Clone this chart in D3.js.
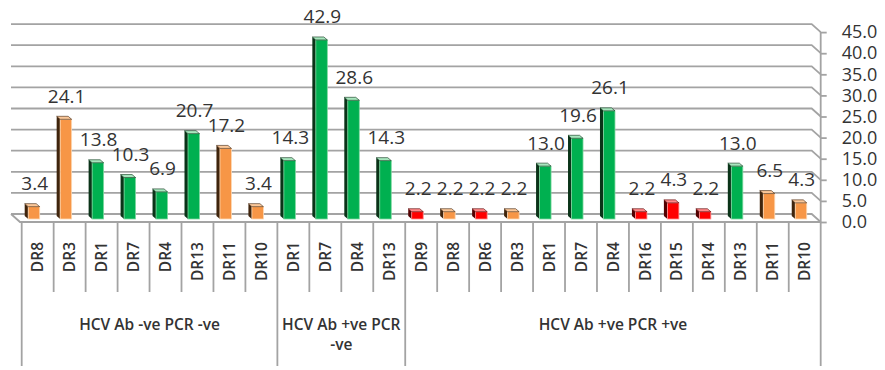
<!DOCTYPE html>
<html>
<head>
<meta charset="utf-8">
<script src="https://cdn.jsdelivr.net/npm/d3@7"></script>
<style>
  html, body { margin: 0; padding: 0; background: #fff; }
  svg { display: block; }
  text { font-family: "Open Sans", sans-serif; fill: #333; }
</style>
</head>
<body>
<svg id="chart" width="885" height="370"></svg>
<script>
// ---- data ----
const groups = ["HCV Ab -ve PCR -ve", "HCV Ab +ve PCR -ve", "HCV Ab +ve PCR +ve"];
const groupLines = [["HCV Ab -ve PCR -ve"], ["HCV Ab +ve PCR", "-ve"], ["HCV Ab +ve PCR +ve"]];
const alleles = ["DR8","DR3","DR1","DR7","DR4","DR13","DR11","DR10",
                 "DR1","DR7","DR4","DR13",
                 "DR9","DR8","DR6","DR3","DR1","DR7","DR4","DR16","DR15","DR14","DR13","DR11","DR10"];
const groupIndex = [0,0,0,0,0,0,0,0, 1,1,1,1, 2,2,2,2,2,2,2,2,2,2,2,2,2];
const values = [3.4,24.1,13.8,10.3,6.9,20.7,17.2,3.4,
                14.3,42.9,28.6,14.3,
                2.2,2.2,2.2,2.2,13.0,19.6,26.1,2.2,4.3,2.2,13.0,6.5,4.3];
const colorKey = ["o","o","g","g","g","g","o","o",
                  "g","g","g","g",
                  "r","o","r","o","g","g","g","r","r","r","g","o","o"];
const yTicks = [0,5,10,15,20,25,30,35,40,45];

const palette = {
  o: {face: "#F79646", top: "#FBC89A", side: "#3f240c", edge: "#FDD9B5"},
  g: {face: "#00B050", top: "#A8E6BE", side: "#0a3318", edge: "#7FD8A0"},
  r: {face: "#FF0000", top: "#FF8A8A", side: "#520000", edge: "#FF9090"}
};

// ---- layout ----
const svg = d3.select("#chart");
const n = alleles.length;
const x = d3.scaleBand().domain(d3.range(n)).range([21.7, 820.7]).paddingInner(0).paddingOuter(0);
const y = d3.scaleLinear().domain([0, 45]).range([218, 218 - 45 * 4.22]);
const depth = 4;
const backX0 = 11, frontX1 = x.range()[1];
const backX1 = frontX1 - 9, frontX0 = backX0 + 9;
const gridColor = "#a3a3a3";

const grid = svg.append("g");
yTicks.forEach(v => {
  const yb = y(v) - depth, yf = y(v) + depth;
  grid.append("path")
    .attr("d", `M${backX0},${yb}L${backX1},${yb}L${frontX1},${yf}`)
    .attr("fill", "none").attr("stroke", gridColor).attr("stroke-width", 1.8);
});
grid.append("path")
  .attr("d", `M${backX0},${y(0) - depth}L${frontX0},${y(0) + depth}L${frontX1},${y(0) + depth}`)
  .attr("fill", "none").attr("stroke", gridColor).attr("stroke-width", 1.8);

// right axis
const yFront = y.copy().range(y.range().map(r => r + depth));
const axis = svg.append("g")
  .attr("transform", `translate(${frontX1},0)`)
  .call(d3.axisRight(yFront).tickValues(yTicks).tickFormat(d3.format(".1f")).tickSize(6).tickPadding(15));
axis.select(".domain").remove();
axis.selectAll(".tick line").attr("stroke", gridColor).attr("stroke-width", 1.8);
axis.selectAll(".tick text")
  .attr("font-family", "Open Sans, sans-serif").attr("font-size", 18).attr("fill", "#333");
svg.append("line")
  .attr("x1", frontX1).attr("x2", frontX1).attr("y1", yFront(45)).attr("y2", 366)
  .attr("stroke", gridColor).attr("stroke-width", 1.8);

// bars (3D look)
const sideW = 3.5, faceW = 11.5, topH = 3;
const bars = svg.append("g");
values.forEach((v, i) => {
  const c = palette[colorKey[i]];
  const xf = x(i) + 6.5;
  const yv = y(v);
  const yb = y(0) + 1;
  bars.append("path")
    .attr("d", `M${xf - sideW},${yv}L${xf},${yv + topH}L${xf},${yb}L${xf - sideW},${yb - topH}Z`)
    .attr("fill", c.side);
  bars.append("rect")
    .attr("x", xf).attr("y", yv + topH).attr("width", faceW).attr("height", yb - yv - topH)
    .attr("fill", c.face).attr("stroke", c.edge).attr("stroke-width", 0.8);
  bars.append("path")
    .attr("d", `M${xf - sideW},${yv}L${xf + faceW - sideW},${yv}L${xf + faceW},${yv + topH}L${xf},${yv + topH}Z`)
    .attr("fill", c.top).attr("stroke", c.side).attr("stroke-width", 0.6);
});

// value labels
svg.append("g").selectAll("text").data(values).join("text")
  .attr("x", (d, i) => x(i) + x.bandwidth() / 2 - 3)
  .attr("y", d => y(d) - 13.5)
  .attr("text-anchor", "middle")
  .attr("font-size", 19)
  .text(d => d3.format(".1f")(d));

// category boxes
const labelTop = y(0) + depth;
const cat = svg.append("g");
d3.range(n).forEach(i => {
  const isGroupEdge = i === 0 || groupIndex[i] !== groupIndex[i - 1];
  cat.append("line")
    .attr("x1", x(i)).attr("x2", x(i)).attr("y1", labelTop).attr("y2", isGroupEdge ? 366 : 292)
    .attr("stroke", gridColor).attr("stroke-width", 1.8);
});
cat.selectAll("text.cat").data(alleles).join("text")
  .attr("class", "cat")
  .attr("transform", (d, i) => `translate(${x(i) + x.bandwidth() / 2},242) rotate(-90)`)
  .attr("text-anchor", "end")
  .attr("dy", "0.36em")
  .attr("font-size", 15.5)
  .attr("font-weight", 600)
  .text(d => d);

// group labels
groups.forEach((g, gi) => {
  const idx = d3.range(n).filter(i => groupIndex[i] === gi);
  const x0 = x(idx[0]), x1 = x(idx[idx.length - 1]) + x.bandwidth();
  const t = cat.append("text")
    .attr("x", (x0 + x1) / 2).attr("y", 330)
    .attr("text-anchor", "middle").attr("font-size", 15.5).attr("font-weight", 600);
  groupLines[gi].forEach((line, li) => {
    t.append("tspan").attr("x", (x0 + x1) / 2).attr("dy", li === 0 ? 0 : 20).text(line);
  });
});
</script>
</body>
</html>
